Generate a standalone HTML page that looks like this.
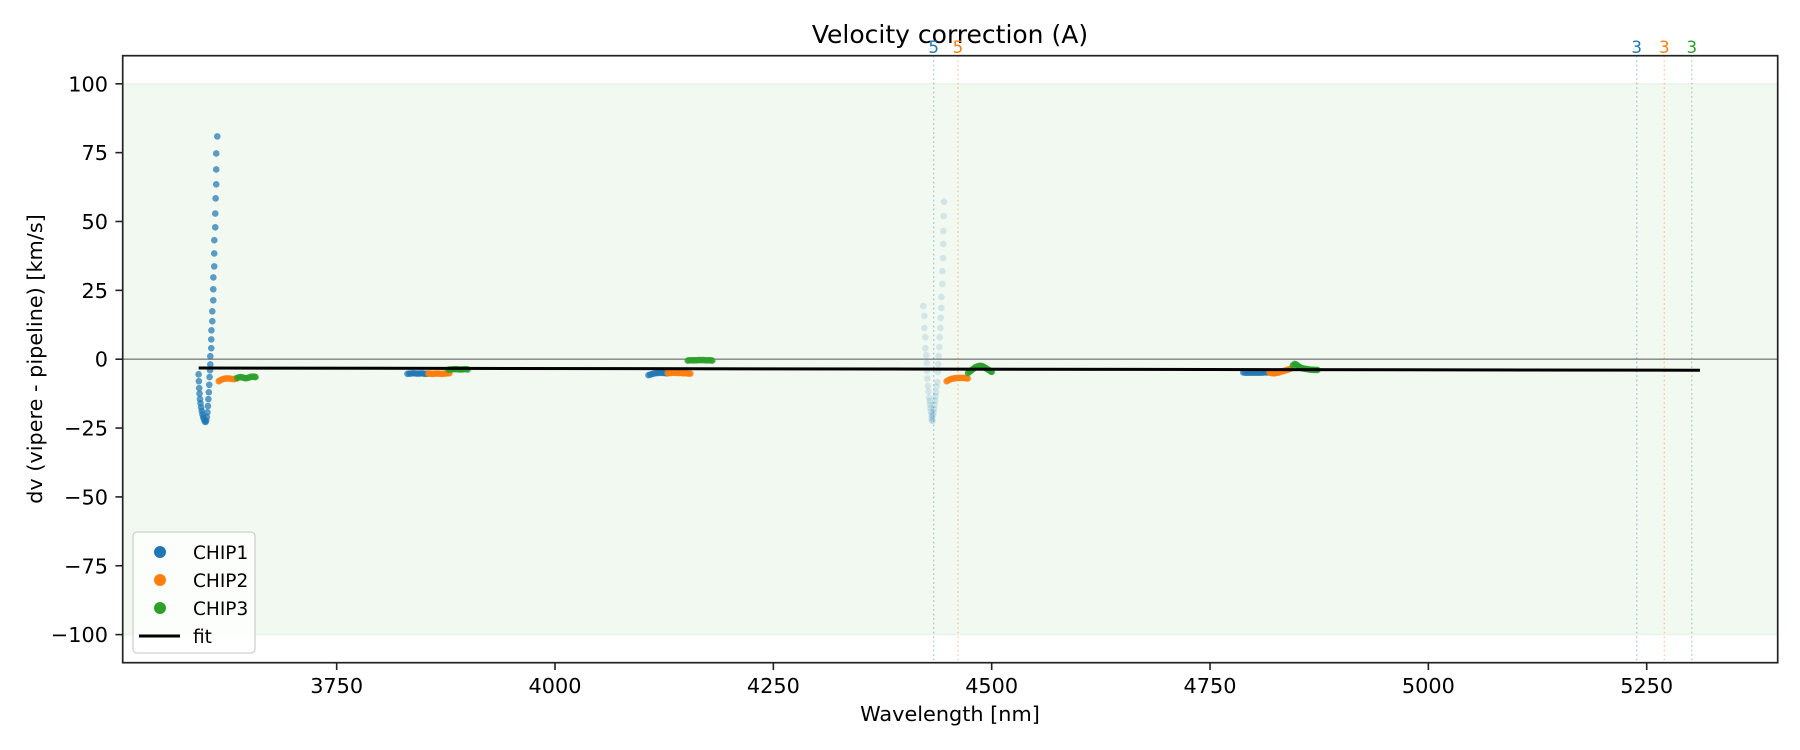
<!DOCTYPE html>
<html><head><meta charset="utf-8"><title>Velocity correction (A)</title>
<style>html,body{margin:0;padding:0;background:#fff}svg{display:block;font-family:"DejaVu Sans","Liberation Sans",sans-serif}</style>
</head><body>
<svg id="chart" width="1800" height="750" viewBox="0 0 1800 750" xmlns="http://www.w3.org/2000/svg">
<rect x="0" y="0" width="1800" height="750" fill="#fff"/>
<g id="plot"></g>
<text x="950" y="43" font-size="25" text-anchor="middle" fill="#000">Velocity correction (A)</text>
<text x="950" y="721" font-size="20.8" text-anchor="middle" fill="#000">Wavelength [nm]</text>
<text x="0" y="0" font-size="20.8" text-anchor="middle" fill="#000" transform="translate(42,359) rotate(-90)">dv (vipere - pipeline) [km/s]</text>
<g>
<rect x="133" y="532" width="122" height="121" rx="4" fill="#fff" fill-opacity="0.8" stroke="#d0d0d0" stroke-width="1.3"/>
<g><circle cx="160" cy="552" r="6" fill="#1f77b4"/><text x="193" y="559" font-size="18.5" fill="#000">CHIP1</text></g>
<g><circle cx="160" cy="580" r="6" fill="#ff7f0e"/><text x="193" y="587" font-size="18.5" fill="#000">CHIP2</text></g>
<g><circle cx="160" cy="608" r="6" fill="#2ca02c"/><text x="193" y="615" font-size="18.5" fill="#000">CHIP3</text></g>
<g><line x1="139" y1="636" x2="180" y2="636" stroke="#000" stroke-width="3"/><text x="193" y="643" font-size="18.5" fill="#000">fit</text></g>
</g>
</svg>
<script>
const xTicks = [3750, 4000, 4250, 4500, 4750, 5000, 5250];
const yTicks = [-100, -75, -50, -25, 0, 25, 50, 75, 100];
const xDomain = [3505, 5400];
const yDomain = [-110.2, 110.2];
const bandRange = [-100, 100];

const chip1X = [3591.9,3592.2,3592.6,3593,3593.5,3594.1,3594.8,3595.5,3596.3,3597.1,3598,3599,3599.8,3600.6,3601.3,3602,3602.6,3603.1,3603.6,3604.1,3604.5,3605,3605.3,3605.3,3606.4,3606.4,3606.6,3607.6,3607.6,3608.7,3608.7,3608.8,3609.8,3609.8,3609.9,3611,3611,3611.4,3612.1,3612.1,3612.1,3613.3,
 3831,3833,3835,3837,3839,3841,3843,3845,3847,3849,3851,3853,3855,
 4107,4109,4111,4113,4115,4117,4119,4121,4123,4125,4127,4129,
 4788,4790,4792,4794,4796,4798,4800,4802,4804,4806,4808,4810,4812,4814,4816,4818];
const chip1Y = [-5.5,-8,-10.5,-12.5,-14.5,-16,-17.5,-18.8,-20,-21,-21.8,-22.5,-22.8,-22.3,-21,-19.3,-17,-14.5,-12,-9.3,-6.5,-4,-1.9,1.1,4.0,7.2,10.5,13.8,17.4,21.4,25.4,29.7,33.7,38.4,43.2,47.9,52.9,58.4,63.5,68.9,74.7,80.9,
 -5.3,-5.2,-5.2,-5.1,-5.1,-5.2,-5.2,-5.2,-5.1,-5.2,-5.3,-5.3,-5.2,
 -5.8,-5.6,-5.4,-5.2,-5.1,-5.0,-5.0,-4.9,-5.0,-5.0,-5.1,-5.1,
 -4.8,-4.9,-4.9,-4.9,-4.9,-4.9,-4.9,-4.9,-4.9,-4.9,-4.9,-4.9,-4.8,-4.8,-4.8,-4.8];
const chip1MaskedX = [4421.7,4422.9,4422.9,4424.0,4424.0,4425.2,4425.6,4426.0,4426.3,4427.1,4427.7,4428.3,4428.9,4429.4,4430.0,4430.5,4431.0,4431.3,4431.7,4432.3,4432.9,4433.5,4434,4434.6,4435.2,4435.8,4436.3,4437.0,4437.7,4438.5,4438.9,4439.3,4440.0,4440.5,4441.2,4441.7,4442.4,4442.4,4443.5,4443.5,4444.3,4444.6,4444.6,4445.0,4445.4];
const chip1MaskedY = [19.3,15.7,11.3,8,4,1.5,-1.4,-4.2,-7,-9.7,-11.8,-14,-15.3,-16.6,-17.8,-19,-20.2,-21.3,-22.2,-22.4,-20.5,-19.3,-18,-16.5,-15,-13.5,-12,-10,-8.3,-4.6,-1.8,1.2,4.4,8,11.3,15,18.6,22.6,27.3,32,36.7,41.8,46.5,52,57.2];
const chip2X = [3615,3617,3619,3621,3623,3625,3627,3629,3631,3633,3635,
 3855,3857,3859,3861,3863,3865,3867,3869,3871,3873,3875,3877,3879,
 4129,4131,4133,4135,4137,4139,4141,4143,4145,4147,4149,4151,4153,4155,
 4448.5,4450.5,4452.5,4454.5,4456.5,4458.5,4460.5,4462.5,4464.5,4466.5,4468.5,4470.5,4472.5,
 4818,4820,4822,4824,4826,4828,4830,4832,4834,4836,4838,4840,4842];
const chip2Y = [-8,-7.6,-7.3,-7.1,-7,-7,-7,-7.1,-7.2,-7.2,-7.1,
 -5.2,-5.2,-5.3,-5.3,-5.2,-5.2,-5.2,-5.3,-5.3,-5.2,-5.2,-5.1,-5.1,
 -5.0,-5.0,-5.0,-4.9,-4.9,-5.0,-5.0,-5.0,-5.0,-5.1,-5.1,-5.1,-5.2,-5.2,
 -8,-7.6,-7.3,-7.1,-7.0,-6.9,-6.8,-6.8,-6.8,-6.8,-6.8,-6.9,-7.0,
 -4.8,-5.0,-5.1,-5.1,-5.0,-4.9,-4.7,-4.5,-4.3,-4.1,-3.9,-3.7,-3.5];
const chip3X = [3636,3638,3640,3642,3644,3646,3648,3650,3652,3654,3656,3657,
 3878,3880,3882,3884,3886,3888,3890,3892,3894,3896,3898,3900,
 4152,4154,4156,4158,4160,4162,4164,4166,4168,4170,4172,4174,4176,4178,4180,
 4473,4475,4477,4479,4481,4483,4485,4487,4489,4491,4493,4495,4497,4499,4500,
 4845,4847,4849,4851,4853,4855,4857,4859,4861,4863,4865,4867,4869,4871,4873];
const chip3Y = [-6.8,-6.6,-6.5,-6.6,-6.8,-6.9,-6.8,-6.6,-6.4,-6.3,-6.4,-6.5,
 -3.8,-3.7,-3.7,-3.6,-3.6,-3.6,-3.7,-3.7,-3.7,-3.6,-3.6,-3.7,
 -0.5,-0.4,-0.4,-0.4,-0.4,-0.4,-0.3,-0.3,-0.3,-0.3,-0.4,-0.4,-0.4,-0.4,-0.5,
 -5.0,-4.5,-4.0,-3.5,-3.0,-2.7,-2.5,-2.4,-2.5,-2.8,-3.2,-3.6,-4.0,-4.4,-4.6,
 -2.2,-1.7,-2.0,-2.5,-2.9,-3.2,-3.4,-3.5,-3.6,-3.7,-3.8,-3.8,-3.9,-3.9,-3.9];
const fitX = [3592, 5311];
const fitY = [-3.2, -4.0];
const markerX = [4433.6, 4461.4, 5238.6, 5270.2, 5301.6];
const markerLabels = ["5", "5", "3", "3", "3"];
const markerColors = ["#1f77b4", "#ff7f0e", "#1f77b4", "#ff7f0e", "#2ca02c"];

const X0 = 122.7, X1 = 1777.7, Y0 = 55.7, Y1 = 662.7;
const NS = 'http://www.w3.org/2000/svg';
function sx(v){ return X0 + (v - xDomain[0]) / (xDomain[1] - xDomain[0]) * (X1 - X0); }
function sy(v){ return Y1 - (v - yDomain[0]) / (yDomain[1] - yDomain[0]) * (Y1 - Y0); }
function mk(tag, attrs, parent){ const e = document.createElementNS(NS, tag); for (const k in attrs) e.setAttribute(k, attrs[k]); parent.appendChild(e); return e; }
const plot = document.getElementById('plot');
const svg = document.getElementById('chart');

const band = mk('rect', {x: X0, y: sy(bandRange[1]), width: X1 - X0, height: sy(bandRange[0]) - sy(bandRange[1]), fill: '#2ca02c', 'fill-opacity': 0.065, stroke: '#2ca02c', 'stroke-opacity': 0.08, 'stroke-width': 1.5}, plot);



const zl = mk('line', {x1: X0, x2: X1, y1: sy(0), y2: sy(0), stroke: '#808080', 'stroke-width': 1.3}, plot);



markerX.forEach((v, i) => {
  const l = mk('line', {x1: sx(v), x2: sx(v), y1: Y0, y2: Y1, stroke: markerColors[i], 'stroke-opacity': 0.4, 'stroke-width': 1.4, 'stroke-dasharray': '1.5 3'}, plot);
  
  
  const t = mk('text', {x: sx(v), y: 53, 'font-size': 16.7, 'text-anchor': 'middle', fill: markerColors[i]}, svg);
  t.textContent = markerLabels[i];
  
  
});

function drawDots(xs, ys, color, op, name){
  const g = mk('g', {}, plot);
  
  
  xs.forEach((v, i) => {
    const c = mk('circle', {cx: sx(v), cy: sy(ys[i]), r: 3.3, fill: color, 'fill-opacity': op}, g);
    
    
  });
}
drawDots(chip1MaskedX, chip1MaskedY, '#1f77b4', 0.15, 'chip1-masked-points');
drawDots(chip1X, chip1Y, '#1f77b4', 0.72, 'chip1-points');
drawDots(chip2X, chip2Y, '#ff7f0e', 0.85, 'chip2-points');
drawDots(chip3X, chip3Y, '#2ca02c', 0.85, 'chip3-points');

const fit = mk('polyline', {points: fitX.map((v, i) => sx(v) + ',' + sy(fitY[i])).join(' '), fill: 'none', stroke: '#000', 'stroke-width': 3}, plot);



const frame = mk('rect', {x: X0, y: Y0, width: X1 - X0, height: Y1 - Y0, fill: 'none', stroke: '#222', 'stroke-width': 1.7}, svg);



xTicks.forEach(v => {
  const l = mk('line', {x1: sx(v), x2: sx(v), y1: Y1, y2: Y1 + 7.3, stroke: '#222', 'stroke-width': 1.6}, svg);
  
  
  const t = mk('text', {x: sx(v), y: 693, 'font-size': 20.8, 'text-anchor': 'middle', fill: '#000'}, svg);
  t.textContent = v;
  
  
});
yTicks.forEach(v => {
  const l = mk('line', {x1: X0 - 7.3, x2: X0, y1: sy(v), y2: sy(v), stroke: '#222', 'stroke-width': 1.6}, svg);
  
  
  const t = mk('text', {x: 108, y: sy(v) + 7.5, 'font-size': 20.8, 'text-anchor': 'end', fill: '#000'}, svg);
  t.textContent = v < 0 ? '\u2212' + Math.abs(v) : String(v);
  
  
});
</script>
</body></html>
